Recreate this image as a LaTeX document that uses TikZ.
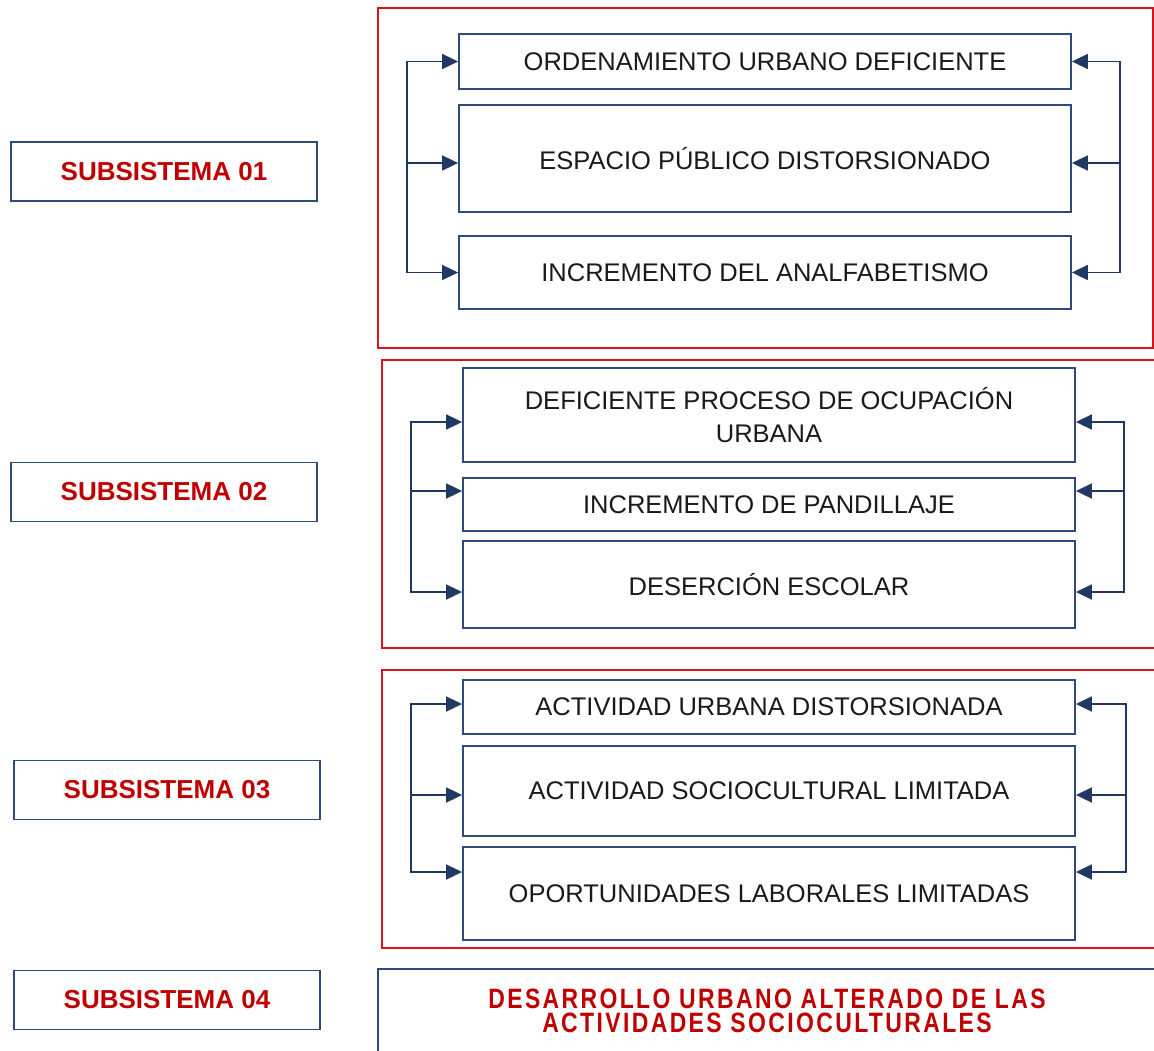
\documentclass[tikz,border=0pt]{standalone}
\usepackage{fontspec}
\setmainfont{Liberation Sans}
\newfontfamily\narrowfont[FakeStretch=0.82,LetterSpace=8.5]{Liberation Sans}
\usetikzlibrary{arrows.meta}
\definecolor{boxblue}{HTML}{2F4B7C}
\definecolor{arrblue}{HTML}{1F3864}
\definecolor{framered}{HTML}{D8141C}
\definecolor{textred}{HTML}{C00000}
\definecolor{textgray}{HTML}{1A1A1A}

\begin{document}
\begin{tikzpicture}[x=1pt,y=-1pt,
  frame/.style={draw=framered,line width=1.8pt},
  subbox/.style={draw=boxblue,line width=1.8pt,minimum width=306pt,minimum height=59pt,inner sep=0pt,text=textred,font=\fontsize{26}{30}\selectfont\bfseries},
  item/.style={draw=boxblue,line width=1.8pt,minimum width=612pt,inner sep=0pt,align=center,text=textgray,font=\fontsize{25.5}{33}\selectfont},
  link/.style={draw=arrblue,line width=1.8pt,line cap=rect},
  arr/.style={link,-{Triangle[length=16pt,width=15pt]}}]
\useasboundingbox (0,0) rectangle (1154,1050);
\fill[white] (0,0) rectangle (1154,1050);

% red frames
\draw[frame] (378,8) rectangle (1153,348);
\draw[frame] (382,360) rectangle (1160,648);
\draw[frame] (382,670) rectangle (1160,948);

% subsystem labels
\node[subbox] (s1) at (164,171.5) {SUBSISTEMA 01};
\node[subbox] (s2) at (164,492) {SUBSISTEMA 02};
\node[subbox] (s3) at (167,790) {SUBSISTEMA 03};
\node[subbox] (s4) at (167,1000) {SUBSISTEMA 04};

% subsystem 01
\node[item,minimum height=55pt] (a1) at (765,61.5) {ORDENAMIENTO URBANO DEFICIENTE};
\node[item,minimum height=107pt] (a2) at (765,158.5) {ESPACIO PÚBLICO DISTORSIONADO};
\node[item,minimum height=73pt] (a3) at (765,272.5) {INCREMENTO DEL ANALFABETISMO};

% subsystem 02
\node[item,minimum height=94pt] (b1) at (769,415) {DEFICIENTE PROCESO DE OCUPACIÓN\\URBANA};
\node[item,minimum height=53pt] (b2) at (769,504.5) {INCREMENTO DE PANDILLAJE};
\node[item,minimum height=87pt] (b3) at (769,584.5) {DESERCIÓN ESCOLAR};

% subsystem 03
\node[item,minimum height=54pt] (c1) at (769,707) {ACTIVIDAD URBANA DISTORSIONADA};
\node[item,minimum height=90pt] (c2) at (769,791) {ACTIVIDAD SOCIOCULTURAL LIMITADA};
\node[item,minimum height=93pt] (c3) at (769,893.5) {OPORTUNIDADES LABORALES LIMITADAS};

% subsystem 04
\node[draw=boxblue,line width=1.8pt,minimum width=778pt,minimum height=84pt,inner sep=0pt,align=center,text=textred,
  font=\narrowfont\bfseries\fontsize{28}{24}\selectfont] (res) at (767,1011)
  {DESARROLLO URBANO ALTERADO DE LAS\\ACTIVIDADES SOCIOCULTURALES};

% brackets
\coordinate (l1) at (407,0); \coordinate (r1) at (1120,0);
\coordinate (l2) at (411,0); \coordinate (r2) at (1124,0);
\coordinate (l3) at (411,0); \coordinate (r3) at (1126,0);

\foreach \n/\s/\l/\r in {a1/0/l1/r1,a2/-4.5/l1/r1,a3/0/l1/r1,
                         b1/-7/l2/r2,b2/13.5/l2/r2,b3/-7.5/l2/r2,
                         c1/3/l3/r3,c2/-4/l3/r3,c3/21.5/l3/r3}{
  \coordinate (\n w) at ([yshift=\s pt]\n.west);
  \coordinate (\n e) at ([yshift=\s pt]\n.east);
  \draw[arr] (\l |- \n w) -- (\n w);
  \draw[arr] (\r |- \n e) -- (\n e);
}

\draw[link] (l1 |- a1w) -- (l1 |- a3w);
\draw[link] (r1 |- a1e) -- (r1 |- a3e);
\draw[link] (l2 |- b1w) -- (l2 |- b3w);
\draw[link] (r2 |- b1e) -- (r2 |- b3e);
\draw[link] (l3 |- c1w) -- (l3 |- c3w);
\draw[link] (r3 |- c1e) -- (r3 |- c3e);
\end{tikzpicture}
\end{document}
